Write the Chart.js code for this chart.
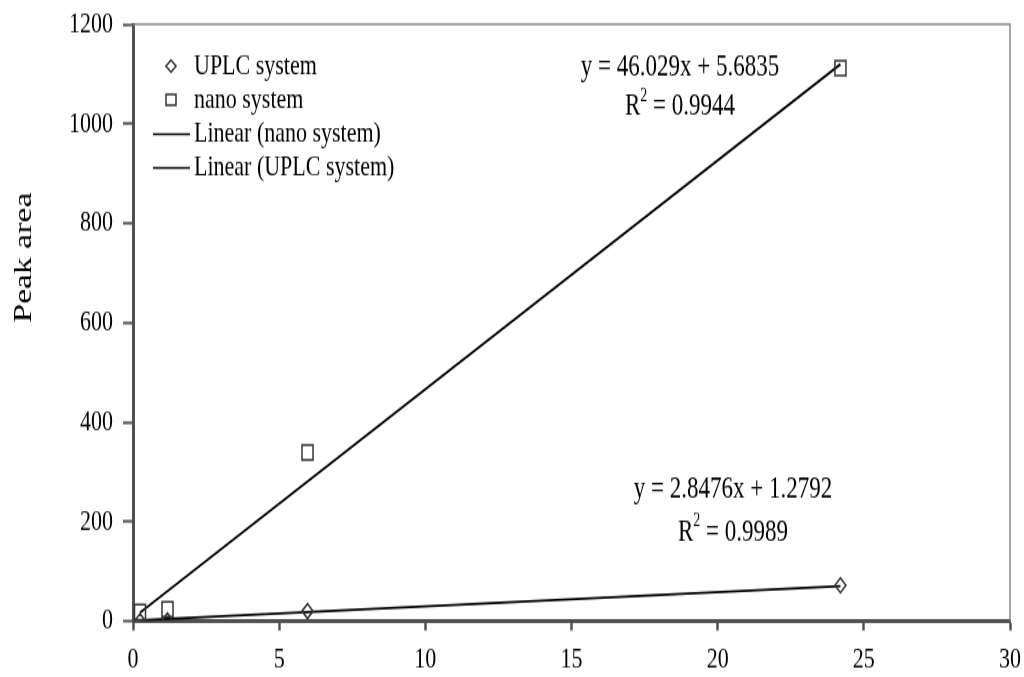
<!DOCTYPE html>
<html>
<head>
<meta charset="utf-8">
<script src="https://cdn.jsdelivr.net/npm/chart.js@4/dist/chart.umd.min.js"></script>
<style>
  html, body { margin: 0; padding: 0; background: #fff; }
  #wrap { width: 1024px; height: 677px; overflow: hidden; }
  /* drawn on a shorter buffer and stretched to full height, which gives the tall serif look */
  #calib_canvas { display: block; width: 1024px; height: 677px; }
</style>
</head>
<body>
<div id="wrap"><canvas id="calib_canvas" width="1024" height="502" style="width:1024px;height:677px"></canvas></div>
<script>
//DATA
var amounts = [0.24, 1.18, 5.97, 24.2]; //x values, same for both systems
var uplcArea = [0, 1, 20, 72];
var nanoArea = [18, 24, 339, 1112];

//trendline fits (slope, intercept, R2) as printed on the chart
var nanoFit = [46.029, 5.6835, 0.9944];
var uplcFit = [2.8476, 1.2792, 0.9989];

var xTicks = [0, 5, 10, 15, 20, 25, 30];
var yTicks = [0, 200, 400, 600, 800, 1000, 1200];

var legendLabels = ["UPLC system", "nano system", "Linear (nano system)", "Linear (UPLC system)"];

var serif = "'Liberation Serif', 'Times New Roman', serif";
var markColor = "#333333";
var axisColor = "#505050";

function toPoints(xs, ys) {
    var pts = [];
    for (var i = 0; i < xs.length; i++)
        pts.push({ x: xs[i], y: ys[i] });
    return pts;
}

function fitLine(fit, xs) {
    var x0 = xs[0], x1 = xs[xs.length - 1];
    return [{ x: x0, y: fit[0] * x0 + fit[1] }, { x: x1, y: fit[0] * x1 + fit[1] }];
}

function drawEq(ctx, fit, cx, y1, y2) {
    ctx.font = "23px " + serif;
    ctx.textAlign = "center";
    ctx.textBaseline = "middle";
    ctx.fillStyle = "#000";
    ctx.fillText("y = " + fit[0] + "x + " + fit[1], cx, y1);
    var a = "R", b = " = " + fit[2];
    var wa = ctx.measureText(a).width, wb = ctx.measureText(b).width;
    ctx.font = "14px " + serif;
    var ws = ctx.measureText("2").width;
    var start = cx - (wa + ws + wb) / 2;
    ctx.textAlign = "left";
    ctx.font = "23px " + serif;
    ctx.fillText(a, start, y2);
    ctx.font = "14px " + serif;
    ctx.fillText("2", start + wa, y2 - 8);
    ctx.font = "23px " + serif;
    ctx.fillText(b, start + wa + ws, y2);
}

//legend, equations, frame and y title drawn on top of the chart
var extras = {
    id: 'extras',
    afterDraw: function(chart) {
        var ctx = chart.ctx;
        var area = chart.chartArea;
        ctx.save();

        //top and right frame
        ctx.strokeStyle = "#8c8c8c";
        ctx.lineWidth = 1.5;
        ctx.beginPath();
        ctx.moveTo(area.left, area.top);
        ctx.lineTo(area.right, area.top);
        ctx.lineTo(area.right, area.bottom);
        ctx.stroke();

        //y title
        ctx.fillStyle = "#000";
        ctx.font = "25px " + serif;
        ctx.textAlign = "center";
        ctx.textBaseline = "middle";
        ctx.translate(24, 191);
        ctx.rotate(-Math.PI / 2);
        ctx.fillText("Peak area", 0, 0);
        ctx.setTransform(1, 0, 0, 1, 0, 0);

        //legend
        var mx = 171, tx = 194;
        var rows = [49, 74, 99.5, 124.5];
        ctx.strokeStyle = markColor;
        ctx.lineWidth = 1.5;
        ctx.beginPath(); //diamond
        ctx.moveTo(mx, rows[0] - 4.5);
        ctx.lineTo(mx + 5, rows[0]);
        ctx.lineTo(mx, rows[0] + 4.5);
        ctx.lineTo(mx - 5, rows[0]);
        ctx.closePath();
        ctx.stroke();
        ctx.strokeRect(mx - 5, rows[1] - 4, 10, 8); //square
        ctx.strokeStyle = "#000";
        for (var k = 2; k < 4; k++) {
            ctx.beginPath();
            ctx.moveTo(153, rows[k]);
            ctx.lineTo(190, rows[k]);
            ctx.stroke();
        }
        ctx.font = "22px " + serif;
        ctx.textAlign = "left";
        ctx.textBaseline = "middle";
        for (var i = 0; i < legendLabels.length; i++)
            ctx.fillText(legendLabels[i], tx, rows[i]);

        //equations
        drawEq(ctx, nanoFit, 680, 49.7, 79.3);
        drawEq(ctx, uplcFit, 733, 363.3, 394.5);
        ctx.restore();
    }
};

var datasets = [];
datasets[0] = {
    label: "Linear (nano system)",
    data: fitLine(nanoFit, amounts),
    showLine: true,
    borderColor: "#000",
    borderWidth: 1.8,
    pointRadius: 0,
    order: 3
};
datasets[1] = {
    label: "Linear (UPLC system)",
    data: fitLine(uplcFit, amounts),
    showLine: true,
    borderColor: "#000",
    borderWidth: 1.8,
    pointRadius: 0,
    order: 4
};
datasets[2] = {
    label: "UPLC system",
    data: toPoints(amounts, uplcArea),
    pointStyle: "rectRot",
    pointRadius: 5.5,
    pointBorderWidth: 1.5,
    pointBorderColor: markColor,
    pointBackgroundColor: "rgba(255,255,255,0)",
    order: 1
};
datasets[3] = {
    label: "nano system",
    data: toPoints(amounts, nanoArea),
    pointStyle: "rect",
    pointRadius: 7.8,
    pointBorderWidth: 1.5,
    pointBorderColor: markColor,
    pointBackgroundColor: "rgba(255,255,255,0)",
    order: 2
};

var ctx = document.getElementById("calib_canvas").getContext('2d');
var calibChart = new Chart(ctx, {
    type: "scatter",
    data: { datasets: datasets },
    plugins: [extras],
    options: {
        responsive: false,
        devicePixelRatio: 1,
        animation: false,
        events: [],
        layout: { padding: { top: 18, right: 14, left: 0, bottom: 0 } },
        plugins: {
            legend: { display: false },
            tooltip: { enabled: false }
        },
        scales: {
            x: {
                type: "linear",
                min: xTicks[0],
                max: xTicks[xTicks.length - 1],
                afterBuildTicks: function(axis) {
                    axis.ticks = xTicks.map(function(v) { return { value: v }; });
                },
                afterFit: function(axis) {
                    axis.height = 41.5;
                    axis.paddingLeft = 0;
                    axis.paddingRight = 0;
                },
                border: { color: axisColor, width: 3 },
                grid: { drawOnChartArea: false, tickLength: 7, tickColor: axisColor, tickWidth: 2.5 },
                ticks: {
                    color: "#000",
                    font: { family: serif, size: 22 },
                    padding: 9,
                    maxRotation: 0,
                    callback: function(v) { return String(v); }
                }
            },
            y: {
                type: "linear",
                min: yTicks[0],
                max: yTicks[yTicks.length - 1],
                afterBuildTicks: function(axis) {
                    axis.ticks = yTicks.map(function(v) { return { value: v }; });
                },
                afterFit: function(axis) {
                    axis.width = 133;
                    axis.paddingTop = 0;
                    axis.paddingBottom = 0;
                },
                border: { color: axisColor, width: 3 },
                grid: { drawOnChartArea: false, tickLength: 10, tickColor: axisColor, tickWidth: 2 },
                ticks: {
                    color: "#000",
                    font: { family: serif, size: 22 },
                    padding: 10,
                    callback: function(v) { return String(v); }
                }
            }
        }
    }
});
</script>
</body>
</html>
